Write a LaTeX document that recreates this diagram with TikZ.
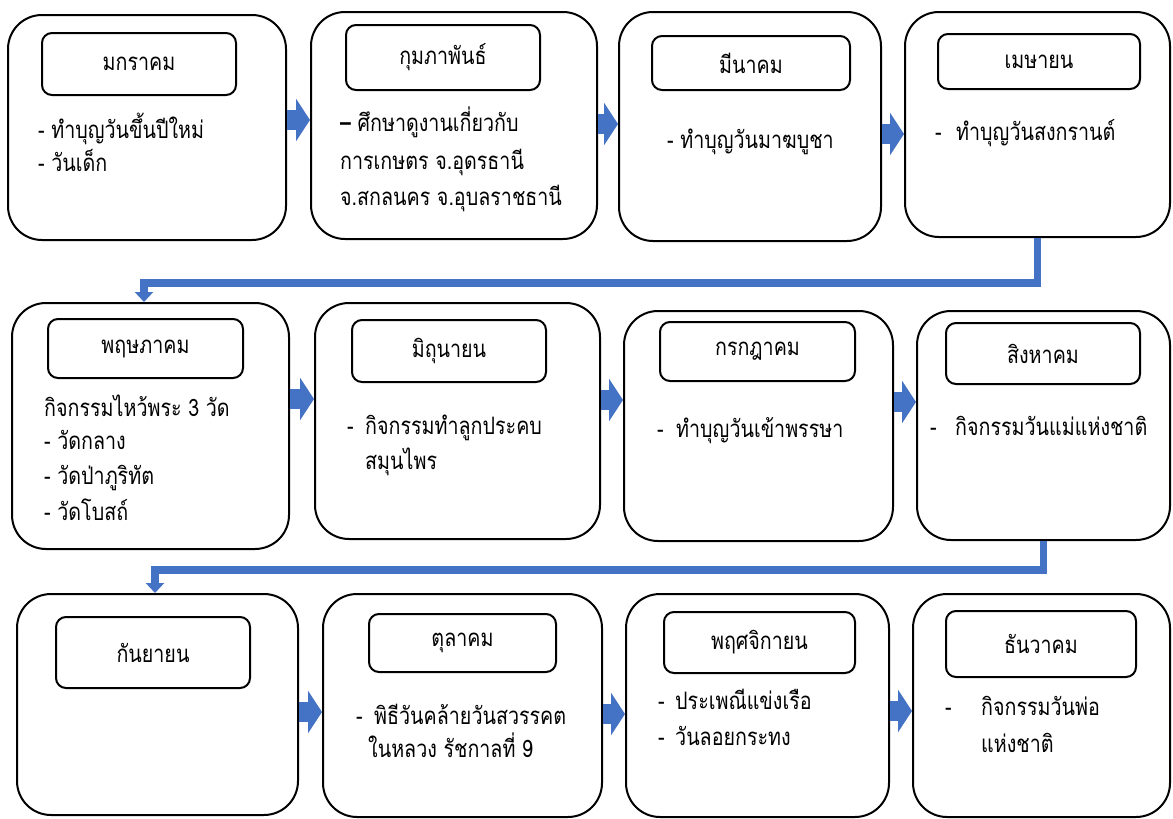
\documentclass[tikz,border=0pt]{standalone}
\usepackage{fontspec}
\newfontfamily\thai[Script=Thai,FakeStretch=0.82]{Loma}
\usetikzlibrary{arrows.meta,calc}
\definecolor{officeblue}{HTML}{4472C4}
\begin{document}
\begin{tikzpicture}[x=1pt,y=-1pt,
  font=\thai\fontsize{24}{27}\selectfont,
  outerbox/.style={draw=black, line width=2pt, rounded corners=34pt, inner sep=0pt, fill=white},
  titlebox/.style={draw=black, line width=2pt, rounded corners=10pt, inner sep=0pt, align=center},
  txt/.style={anchor=base west, inner sep=0pt},
  blockarrow/.style={draw=officeblue, line width=20pt, -{Triangle[length=14pt,width=42pt]}},
  bentarrow/.style={draw=officeblue, line width=7.5pt, line join=miter, -{Triangle[length=10pt,width=18pt]}}]
\useasboundingbox (0,0) rectangle (1173,819);

% ---------- Row 1 ----------
\node[outerbox, minimum width=278pt, minimum height=225pt] (b1) at (147,127.5) {};
\node[outerbox, minimum width=286pt, minimum height=227pt] (b2) at (454,125.5) {};
\node[outerbox, minimum width=262pt, minimum height=229pt] (b3) at (750,126.5) {};
\node[outerbox, minimum width=265pt, minimum height=225pt] (b4) at (1037.5,124.5) {};

\node[titlebox, minimum width=194pt, minimum height=62pt] (t1) at (139,64) {มกราคม};
\node[titlebox, minimum width=194pt, minimum height=65pt] (t2) at (443,57.5) {กุมภาพันธ์};
\node[titlebox, minimum width=198pt, minimum height=54pt] (t3) at (751,63) {มีนาคม};
\node[titlebox, minimum width=202pt, minimum height=55pt] (t4) at (1039,61.5) {เมษายน};

\node[txt] (b1l1) at (38,138) {- ทำบุญวันขึ้นปีใหม่};
\node[txt] (b1l2) at (38,171) {- วันเด็ก};
\node[txt] (b2l1) at (340,131) {\textbf{–} ศึกษาดูงานเกี่ยวกับ};
\node[txt] (b2l2) at (340,169) {การเกษตร จ.อุดรธานี};
\node[txt] (b2l3) at (340,205) {จ.สกลนคร จ.อุบลราชธานี};
\node[txt] (b3l1) at (667,148) {- ทำบุญวันมาฆบูชา};
\node[txt] (b4d) at (935,140) {-};
\node[txt] (b4l1) at (956,140) {ทำบุญวันสงกรานต์};

% ---------- Row 2 ----------
\node[outerbox, minimum width=277pt, minimum height=246pt] (b5) at (150.5,426) {};
\node[outerbox, minimum width=285pt, minimum height=236pt] (b6) at (457.5,421) {};
\node[outerbox, minimum width=269pt, minimum height=230pt] (b7) at (758.5,426) {};
\node[outerbox, minimum width=253pt, minimum height=229pt] (b8) at (1043.5,425.5) {};

\node[titlebox, minimum width=195pt, minimum height=59pt] (t5) at (145.5,348.5) {พฤษภาคม};
\node[titlebox, minimum width=194pt, minimum height=62pt] (t6) at (449,351) {มิถุนายน};
\node[titlebox, minimum width=195pt, minimum height=59pt] (t7) at (757.5,351.5) {กรกฎาคม};
\node[titlebox, minimum width=194pt, minimum height=61pt] (t8) at (1043,353.5) {สิงหาคม};

\node[txt] (b5l1) at (44,416) {กิจกรรมไหว้พระ 3 วัด};
\node[txt] (b5l2) at (44,449) {- วัดกลาง};
\node[txt] (b5l3) at (44,484) {- วัดป่าภูริทัต};
\node[txt] (b5l4) at (44,520) {- วัดโบสถ์};
\node[txt] (b6d) at (347,434) {-};
\node[txt] (b6l1) at (365,434) {กิจกรรมทำลูกประคบ};
\node[txt] (b6l2) at (365,469) {สมุนไพร};
\node[txt] (b7d) at (657,437) {-};
\node[txt] (b7l1) at (676,437) {ทำบุญวันเข้าพรรษา};
\node[txt] (b8d) at (930,435) {-};
\node[txt] (b8l1) at (955,435) {กิจกรรมวันแม่แห่งชาติ};

% ---------- Row 3 ----------
\node[outerbox, minimum width=281pt, minimum height=221pt] (b9) at (157.5,704.5) {};
\node[outerbox, minimum width=279pt, minimum height=223pt] (b10) at (462.5,705.5) {};
\node[outerbox, minimum width=263pt, minimum height=223pt] (b11) at (757.5,705.5) {};
\node[outerbox, minimum width=257pt, minimum height=223pt] (b12) at (1041.5,705.5) {};

\node[titlebox, minimum width=194pt, minimum height=71pt] (t9) at (153,652.5) {กันยายน};
\node[titlebox, minimum width=187pt, minimum height=58pt] (t10) at (462.5,643) {ตุลาคม};
\node[titlebox, minimum width=191pt, minimum height=61pt] (t11) at (759.5,642.5) {พฤศจิกายน};
\node[titlebox, minimum width=190pt, minimum height=66pt] (t12) at (1041,644) {ธันวาคม};

\node[txt] (b10d) at (356,724) {-};
\node[txt] (b10l1) at (374,724) {พิธีวันคล้ายวันสวรรคต};
\node[txt] (b10l2) at (368,757) {ในหลวง รัชกาลที่ 9};
\node[txt] (b11d1) at (658,709) {-};
\node[txt] (b11l1) at (675,709) {ประเพณีแข่งเรือ};
\node[txt] (b11d2) at (658,745) {-};
\node[txt] (b11l2) at (675,745) {วันลอยกระทง};
\node[txt] (b12d) at (945,715) {-};
\node[txt] (b12l1) at (981,715) {กิจกรรมวันพ่อ};
\node[txt] (b12l2) at (981,752) {แห่งชาติ};

% ---------- Block arrows ----------
\draw[blockarrow] (b1.east |- 0,120) -- (b2.west |- 0,120);
\draw[blockarrow] (b2.east |- 0,124) -- (b3.west |- 0,124);
\draw[blockarrow] (b3.east |- 0,134) -- (b4.west |- 0,134);
\draw[blockarrow] (b5.east |- 0,399) -- (b6.west |- 0,399);
\draw[blockarrow] (b6.east |- 0,400) -- (b7.west |- 0,400);
\draw[blockarrow] (b7.east |- 0,402) -- (b8.west |- 0,402);
\draw[blockarrow] (b9.east |- 0,712) -- (b10.west |- 0,712);
\draw[blockarrow] (b10.east |- 0,714) -- (b11.west |- 0,714);
\draw[blockarrow] (b11.east |- 0,711) -- (b12.west |- 0,711);

% ---------- Bent connectors ----------
\coordinate (c1) at (144,283);
\coordinate (c2) at (155,570);
\draw[bentarrow] (b4.south) |- (c1) -- (c1 |- b5.north);
\draw[bentarrow] (b8.south) |- (c2) -- (c2 |- b9.north);
\end{tikzpicture}
\end{document}
